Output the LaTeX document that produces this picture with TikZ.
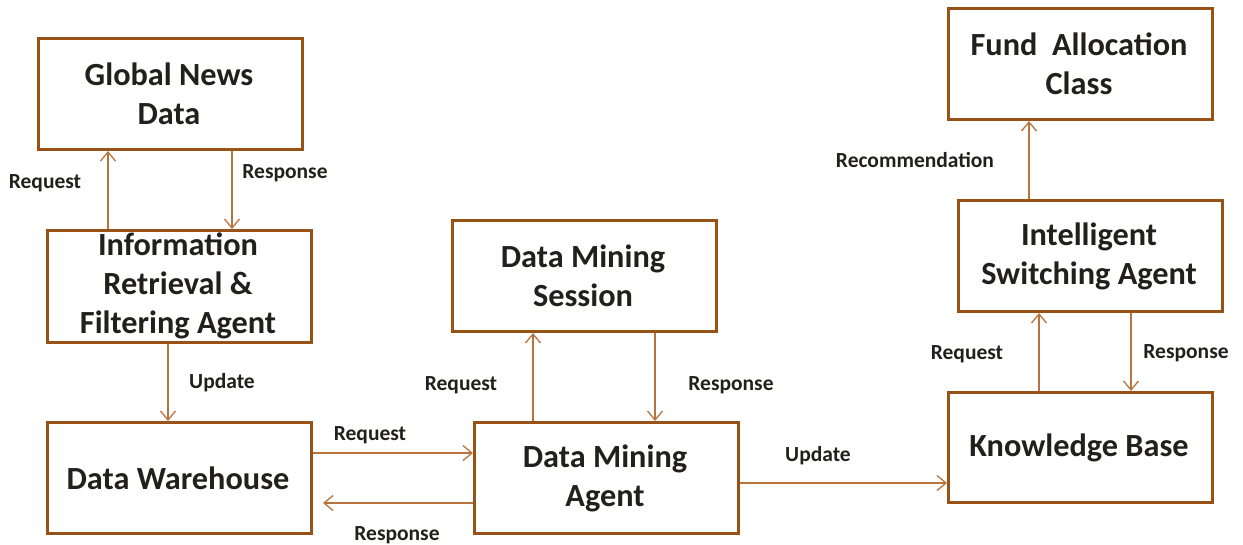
\documentclass[tikz,border=0pt]{standalone}
\usepackage{fontspec}
\setmainfont{Carlito}
\usetikzlibrary{arrows.meta}
\definecolor{boxline}{RGB}{152,82,22}
\definecolor{arrowline}{RGB}{184,116,62}
\definecolor{ink}{RGB}{34,32,26}
\tikzset{
  block/.style={draw=boxline, line width=3pt, fill=white, inner sep=0pt, anchor=north west},
  btext/.style={font=\bfseries\fontsize{32.3}{39}\selectfont, text=ink, align=center},
  lbl/.style={font=\bfseries\fontsize{21.5}{25}\selectfont, text=ink},
  flow/.style={draw=arrowline, line width=1.3pt, -{Straight Barb[length=9pt,width=15pt,line width=1.3pt]}},
}
\begin{document}
\begin{tikzpicture}[x=1pt,y=-1pt]
\useasboundingbox (0,0) rectangle (1243,544);
% boxes
\node[block, minimum width=264pt, minimum height=111pt] (gnd) at (37,37) {};
\node[block, minimum width=264pt, minimum height=112pt] (irf) at (46,229) {};
\node[block, minimum width=264pt, minimum height=111pt] (dw)  at (46,421) {};
\node[block, minimum width=264pt, minimum height=111pt] (dms) at (451,219) {};
\node[block, minimum width=264pt, minimum height=111pt] (dma) at (473,421) {};
\node[block, minimum width=264pt, minimum height=110pt] (kb)  at (947,391) {};
\node[block, minimum width=264pt, minimum height=111pt] (isa) at (957,199) {};
\node[block, minimum width=264pt, minimum height=111pt] (fac) at (947,7) {};
% box texts
\node[btext] (tgnd) at (169,94) {Global News\\Data};
\node[btext] (tirf) at (178,286) {Information\\Retrieval \&\\Filtering Agent};
\node[btext] (tdw)  at (178,478) {Data Warehouse};
\node[btext] (tdms) at (583,276) {Data Mining\\Session};
\node[btext] (tdma) at (605,478) {Data Mining\\Agent};
\node[btext] (tkb)  at (1079,448) {Knowledge Base};
\node[btext] (tisa) at (1089,256) {Intelligent\\Switching Agent};
\node[btext] (tfac) at (1079,64) {Fund\ \ Allocation\\Class};
% connectors
\draw[flow] (irf.north west -| 108,0) -- (gnd.south west -| 108,0);
\draw[flow] (gnd.south west -| 232,0) -- (irf.north west -| 232,0);
\draw[flow] (irf.south west -| 168,0) -- (dw.north west -| 168,0);
\draw[flow] (dw.north east |- 0,453) -- (dma.north west |- 0,453);
\draw[flow, shorten >=10pt] (dma.north west |- 0,503) -- (dw.north east |- 0,503);
\draw[flow] (dma.north west -| 533,0) -- (dms.south west -| 533,0);
\draw[flow] (dms.south west -| 655,0) -- (dma.north west -| 655,0);
\draw[flow] (dma.north east |- 0,483) -- (kb.north west |- 0,483);
\draw[flow] (kb.north west -| 1039,0) -- (isa.south west -| 1039,0);
\draw[flow] (isa.south west -| 1131,0) -- (kb.north west -| 1131,0);
\draw[flow] (isa.north west -| 1029,0) -- (fac.south west -| 1029,0);
% connector labels
\node[lbl] (l1) at (45,183) {Request};
\node[lbl] (l2) at (285,173) {Response};
\node[lbl] (l3) at (222,383) {Update};
\node[lbl] (l4) at (370,435) {Request};
\node[lbl] (l5) at (397,535) {Response};
\node[lbl] (l6) at (461,385) {Request};
\node[lbl] (l7) at (731,385) {Response};
\node[lbl] (l8) at (818,456) {Update};
\node[lbl] (l9) at (967,354) {Request};
\node[lbl] (l10) at (1186,353) {Response};
\node[lbl] (l11) at (915,160) {Recommendation};
\end{tikzpicture}
\end{document}
